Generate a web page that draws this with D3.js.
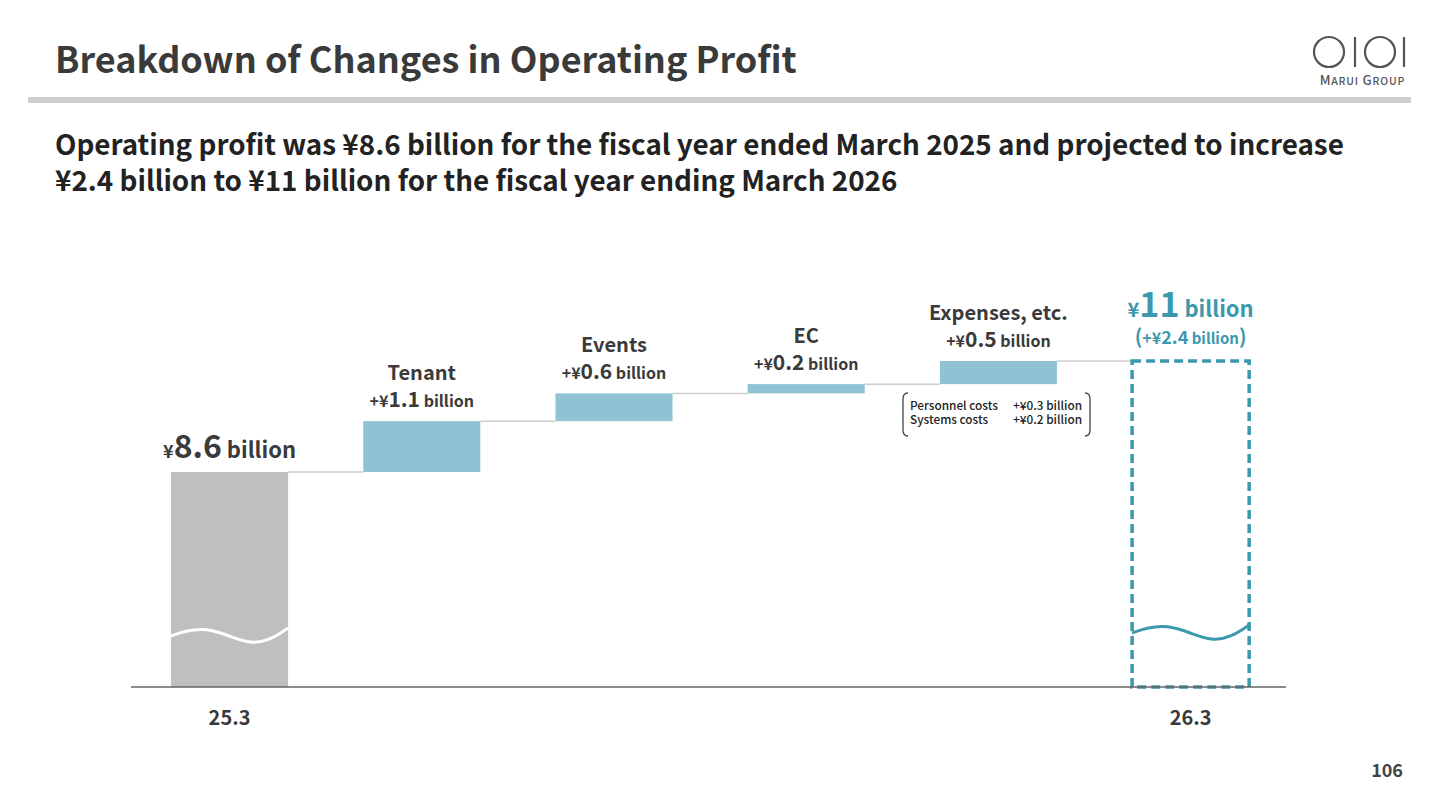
<!DOCTYPE html>
<html>
<head>
<meta charset="utf-8">
<script src="https://cdn.jsdelivr.net/npm/d3@7"></script>
<style>
  body { margin: 0; background: #fff; }
  svg { display: block; font-family: "Noto Sans CJK JP", "Noto Sans", sans-serif; }
</style>
</head>
<body>
<div id="vis"></div>
<script>
const FRAME_WIDTH = 1440;
const FRAME_HEIGHT = 810;

// data
const categories = ["25.3", "Tenant", "Events", "EC", "Expenses, etc.", "26.3"];
const deltas = [8.6, 1.1, 0.6, 0.2, 0.5, 11];
const kinds = ["total", "up", "up", "up", "up", "total"];
const valueLabels = ["8.6", "1.1", "0.6", "0.2", "0.5", "11"];
const axisLabels = ["25.3", "", "", "", "", "26.3"];
const subItems = ["Personnel costs", "Systems costs"];
const subValues = ["+¥0.3 billion", "+¥0.2 billion"];

const GRAY = "#bfbfbf";
const BLUE = "#8fc3d3";
const TEAL = "#3b98ad";
const TEXT = "#3a3a3a";

const svg = d3.select("#vis").append("svg")
  .attr("width", FRAME_WIDTH)
  .attr("height", FRAME_HEIGHT);

// header
svg.append("text").attr("x", 55).attr("y", 73)
  .attr("font-size", 36).attr("font-weight", 700).attr("fill", TEXT)
  .text("Breakdown of Changes in Operating Profit");
svg.append("rect").attr("x", 28).attr("y", 97).attr("width", 1383).attr("height", 6).attr("fill", "#cfcfcf");

// logo
const logo = svg.append("g").attr("stroke", "#555").attr("stroke-width", 2.2).attr("fill", "none");
logo.append("ellipse").attr("cx", 1329).attr("cy", 52).attr("rx", 15).attr("ry", 15);
logo.append("line").attr("x1", 1355).attr("x2", 1355).attr("y1", 37).attr("y2", 67);
logo.append("ellipse").attr("cx", 1380).attr("cy", 52).attr("rx", 15).attr("ry", 15);
logo.append("line").attr("x1", 1404).attr("x2", 1404).attr("y1", 37).attr("y2", 67);
svg.append("text").attr("x", 1405).attr("y", 85).attr("text-anchor", "end")
  .attr("font-size", 13).attr("font-weight", 500).attr("fill", "#555").attr("letter-spacing", 0.8)
  .html('<tspan>M</tspan><tspan font-size="10.5">ARUI</tspan> <tspan>G</tspan><tspan font-size="10.5">ROUP</tspan>');

// subtitle
const sub = svg.append("text").attr("font-size", 27.8).attr("font-weight", 700).attr("fill", "#222");
sub.append("tspan").attr("x", 55).attr("y", 155)
  .text("Operating profit was ¥8.6 billion for the fiscal year ended March 2025 and projected to increase");
sub.append("tspan").attr("x", 55).attr("y", 191)
  .text("¥2.4 billion to ¥11 billion for the fiscal year ending March 2026");

// scales
const x = d3.scaleBand().domain(categories).range([132.6, 1287.6]).paddingInner(0.391).paddingOuter(0.2);
const y = d3.scaleLinear().domain([8.6, 11]).range([472, 361]);
const baseY = 687;
const breakY = 636;

// compute waterfall
let running = 0;
const bars = categories.map((c, i) => {
  let lo, hi;
  if (kinds[i] === "total") { running = deltas[i]; lo = null; hi = deltas[i]; }
  else { lo = running; running += deltas[i]; hi = running; }
  return { cat: c, kind: kinds[i], lo: lo, hi: hi, label: valueLabels[i], axis: axisLabels[i], i: i };
});

// connectors
for (let i = 0; i < bars.length - 1; i++) {
  svg.append("line")
    .attr("x1", x(bars[i].cat) + x.bandwidth()).attr("x2", x(bars[i + 1].cat))
    .attr("y1", y(bars[i].hi)).attr("y2", y(bars[i].hi))
    .attr("stroke", "#cccccc").attr("stroke-width", 1.5);
}

// bars
svg.selectAll("rect.bar")
  .data(bars.filter(d => d.kind === "up" || d.i === 0))
  .enter().append("rect")
  .attr("class", "bar")
  .attr("x", d => x(d.cat))
  .attr("width", x.bandwidth())
  .attr("y", d => y(d.hi))
  .attr("height", d => (d.kind === "total" ? baseY : y(d.lo)) - y(d.hi))
  .attr("fill", d => d.kind === "total" ? GRAY : BLUE);

// dashed forecast box
const last = bars[bars.length - 1];
svg.append("rect")
  .attr("x", x(last.cat)).attr("width", x.bandwidth())
  .attr("y", y(last.hi)).attr("height", baseY - y(last.hi))
  .attr("fill", "none").attr("stroke", TEAL).attr("stroke-width", 3.5)
  .attr("stroke-dasharray", "9,5");

// axis line
svg.append("line").attr("x1", 131).attr("x2", 1286).attr("y1", baseY).attr("y2", baseY)
  .attr("stroke", "#666").attr("stroke-width", 1.5);

// break waves
const wave = (x0, w, yb) => d3.line().curve(d3.curveBasis)(
  [[0, 0], [0.12, -5], [0.3, -8], [0.5, 0], [0.68, 8], [0.85, 4], [1, -8]].map(p => [x0 + p[0] * w, yb + p[1]])
);
svg.append("path").attr("d", wave(x(bars[0].cat), x.bandwidth(), breakY))
  .attr("fill", "none").attr("stroke", "#fff").attr("stroke-width", 3);
svg.append("path").attr("d", wave(x(last.cat), x.bandwidth(), breakY - 3))
  .attr("fill", "none").attr("stroke", TEAL).attr("stroke-width", 3);

// labels for increments
bars.filter(d => d.kind === "up").forEach(d => {
  const cx = x(d.cat) + x.bandwidth() / 2;
  const top = y(d.hi);
  svg.append("text").attr("x", cx).attr("y", top - 41).attr("text-anchor", "middle")
    .attr("font-size", 20).attr("font-weight", 700).attr("fill", TEXT).text(d.cat);
  const t = svg.append("text").attr("x", cx).attr("y", top - 14).attr("text-anchor", "middle")
    .attr("font-weight", 700).attr("fill", TEXT);
  t.append("tspan").attr("font-size", 16).text("+¥");
  t.append("tspan").attr("font-size", 21).text(d.label);
  t.append("tspan").attr("font-size", 16).text(" billion");
});

// first total label
{
  const d = bars[0];
  const t = svg.append("text").attr("x", x(d.cat) + x.bandwidth() / 2).attr("y", y(d.hi) - 14)
    .attr("text-anchor", "middle").attr("font-weight", 700).attr("fill", TEXT);
  t.append("tspan").attr("font-size", 18).text("¥");
  t.append("tspan").attr("font-size", 32).text(d.label);
  t.append("tspan").attr("font-size", 22).text(" billion");
}

// last total label
{
  const cx = x(last.cat) + x.bandwidth() / 2;
  const t = svg.append("text").attr("x", cx).attr("y", y(last.hi) - 44)
    .attr("text-anchor", "middle").attr("font-weight", 700).attr("fill", TEAL);
  t.append("tspan").attr("font-size", 20).text("¥");
  t.append("tspan").attr("font-size", 34).text(last.label);
  t.append("tspan").attr("font-size", 22).text(" billion");
  const change = d3.format(".1f")(last.hi - bars[0].hi);
  const t2 = svg.append("text").attr("x", cx).attr("y", y(last.hi) - 17)
    .attr("text-anchor", "middle").attr("font-weight", 700).attr("fill", TEAL);
  t2.append("tspan").attr("font-size", 20).text("(");
  t2.append("tspan").attr("font-size", 16).text("+¥");
  t2.append("tspan").attr("font-size", 18).text(change);
  t2.append("tspan").attr("font-size", 15).text(" billion");
  t2.append("tspan").attr("font-size", 20).text(")");
}

// axis labels
svg.selectAll("text.axis")
  .data(bars.filter(d => d.axis))
  .enter().append("text")
  .attr("x", d => x(d.cat) + x.bandwidth() / 2)
  .attr("y", 725).attr("text-anchor", "middle")
  .attr("font-size", 20).attr("font-weight", 700).attr("fill", TEXT)
  .text(d => d.axis);

// expense breakdown bracket
const bx0 = 903, bx1 = 1090, by0 = 393, by1 = 436;
svg.append("path")
  .attr("d", `M${bx0 + 5},${by0} Q${bx0},${by0} ${bx0},${by0 + 6} L${bx0},${by1 - 6} Q${bx0},${by1} ${bx0 + 5},${by1}`)
  .attr("fill", "none").attr("stroke", "#444").attr("stroke-width", 1.3);
svg.append("path")
  .attr("d", `M${bx1 - 5},${by0} Q${bx1},${by0} ${bx1},${by0 + 6} L${bx1},${by1 - 6} Q${bx1},${by1} ${bx1 - 5},${by1}`)
  .attr("fill", "none").attr("stroke", "#444").attr("stroke-width", 1.3);
subItems.forEach((s, i) => {
  svg.append("text").attr("x", 910).attr("y", 410 + i * 14)
    .attr("font-size", 11.8).attr("font-weight", 500).attr("fill", "#222").text(s);
  svg.append("text").attr("x", 1082).attr("y", 410 + i * 14).attr("text-anchor", "end")
    .attr("font-size", 11.8).attr("font-weight", 500).attr("fill", "#222").text(subValues[i]);
});

// page number
svg.append("text").attr("x", 1403).attr("y", 777).attr("text-anchor", "end")
  .attr("font-size", 18).attr("font-weight", 700).attr("fill", "#444").text("106");
</script>
</body>
</html>
